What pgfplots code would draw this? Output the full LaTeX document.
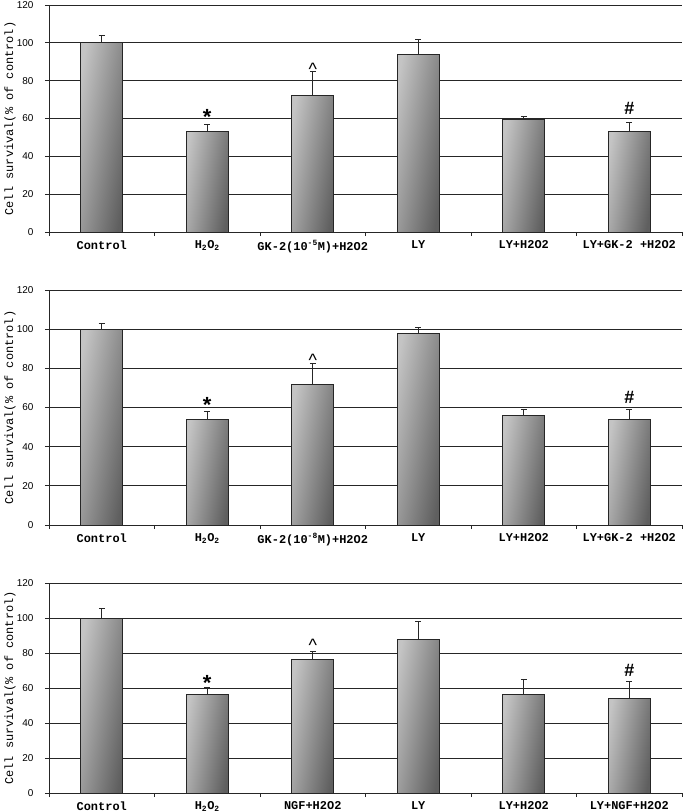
\documentclass[border=0pt]{standalone}
\usepackage{fontspec}
\setmainfont{Liberation Sans}
\newfontfamily\monofont{Liberation Mono}
\usepackage{pgfplots}
\usepackage{pgfplotstable}
\pgfplotsset{compat=1.18}

\definecolor{barlight}{RGB}{196,196,196}
\definecolor{bardark}{RGB}{95,95,95}

% x = group, y = survival (% of control), e = upper error
\pgfplotstableread{
x y e
0 100 4
1 53 4
2 72 13
3 94 8
4 59.5 1.5
5 53 5
}\dataA
\pgfplotstableread{
x y e
0 100 3
1 54 4
2 72 10.6
3 98 3
4 56 3
5 54 5
}\dataB
\pgfplotstableread{
x y e
0 100 5.5
1 56.5 4
2 76.5 4.5
3 88 10
4 56.5 8.5
5 54 10
}\dataC

\pgfplotsset{
  cellpanel/.style={
    scale only axis, width=633bp,
    xmin=-0.5, xmax=5.5, ymin=0, ymax=120,
    ybar, bar width=42bp,
    axis lines*=left,
    axis line style={black!85, line width=0.9bp},
    ymajorgrids, grid style={black!85, line width=0.9bp},
    ytick={0,20,...,120},
    xtick={0,...,5}, major x tick style={draw=none},
    minor xtick={-0.5,0.5,...,5.5},
    minor x tick style={black!85, line width=0.8bp},
    minor tick length=4bp, major tick length=4bp,
    tick align=outside,
    y tick style={black!85, line width=0.8bp},
    /pgf/number format/assume math mode=true,
    yticklabel style={font=\fontsize{10}{11}\selectfont, xshift=-8bp},
    xticklabel style={font=\monofont\bfseries\fontsize{12}{13}\selectfont, yshift=-1bp},
    ylabel={Cell survival(\% of control)},
    ylabel style={font=\monofont\fontsize{12}{13}\selectfont,
      at={(axis description cs:0,0.5)}, anchor=center, yshift=39bp},
    clip=false,
  },
  cellbars/.style={
    draw=black!85, line width=0.7bp, bar shift=0pt,
    left color=barlight, right color=bardark, shading angle=80,
    error bars/.cd, y dir=plus, y explicit,
    error bar style={black!85, line width=0.9bp},
    error mark options={rotate=90, black!85, line width=0.9bp, mark size=3bp},
  },
}
\tikzset{
  starmark/.style={font=\bfseries\fontsize{22}{22}\selectfont, yshift=-4.8bp, inner sep=0pt},
  caretmark/.style={font=\fontsize{18}{18}\selectfont, yshift=-3.6bp, inner sep=0pt},
  hashmark/.style={font=\bfseries\fontsize{18}{18}\selectfont, inner sep=0pt},
}

\begin{document}
\begin{tikzpicture}
\useasboundingbox (0,0) rectangle (685bp,-812bp);

\begin{axis}[cellpanel, height=227bp, at={(49bp,-5bp)}, anchor=north west,
  xticklabels={Control, H\textsubscript{2}O\textsubscript{2},
    GK-2(10\textsuperscript{-5}M)+H2O2, LY, LY+H2O2, LY+GK-2 +H2O2}]
\pgfplotsinvokeforeach{0,...,5}{
  \addplot[restrict x to domain=#1:#1, cellbars] table[x=x, y=y, y error=e] {\dataA};
}
\node[starmark] at (axis cs:1,63.5) {*};
\node[caretmark] at (axis cs:2,88) {\textasciicircum};
\node[hashmark] at (axis cs:5,65.5) {\#};
\end{axis}

\begin{axis}[cellpanel, height=235bp, at={(49bp,-290bp)}, anchor=north west,
  xticklabels={Control, H\textsubscript{2}O\textsubscript{2},
    GK-2(10\textsuperscript{-8}M)+H2O2, LY, LY+H2O2, LY+GK-2 +H2O2}]
\pgfplotsinvokeforeach{0,...,5}{
  \addplot[restrict x to domain=#1:#1, cellbars] table[x=x, y=y, y error=e] {\dataB};
}
\node[starmark] at (axis cs:1,63.5) {*};
\node[caretmark] at (axis cs:2,86) {\textasciicircum};
\node[hashmark] at (axis cs:5,65) {\#};
\end{axis}

\begin{axis}[cellpanel, height=210bp, at={(49bp,-583bp)}, anchor=north west,
  xticklabels={Control, H\textsubscript{2}O\textsubscript{2},
    NGF+H2O2, LY, LY+H2O2, LY+NGF+H2O2}]
\pgfplotsinvokeforeach{0,...,5}{
  \addplot[restrict x to domain=#1:#1, cellbars] table[x=x, y=y, y error=e] {\dataC};
}
\node[starmark] at (axis cs:1,65.7) {*};
\node[caretmark] at (axis cs:2,86.5) {\textasciicircum};
\node[hashmark] at (axis cs:5,70) {\#};
\end{axis}
\end{tikzpicture}
\end{document}
